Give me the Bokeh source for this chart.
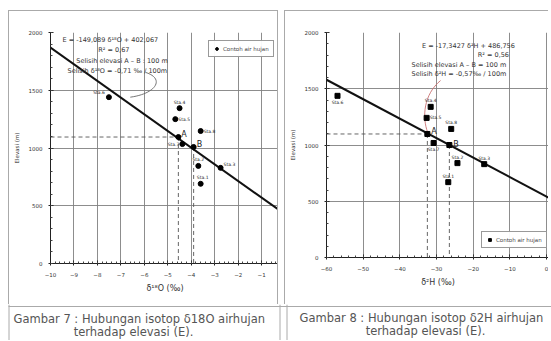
import numpy as np
from bokeh.plotting import figure
from bokeh.layouts import column, row, Spacer
from bokeh.models import ColumnDataSource, Legend, LegendItem, FixedTicker
from bokeh.core.properties import value
from bokeh.embed import file_html
from bokeh.resources import INLINE

# ---------------- data ----------------
stations = ["Sta.6", "Sta.4", "Sta.5", "Sta.8", "A", "Sta.7", "B", "Sta.2", "Sta.3", "Sta.1"]
d18o = [-7.51, -4.50, -4.68, -3.60, -4.55, -4.38, -3.90, -3.70, -2.75, -3.60]
elev_18o = [1440, 1345, 1250, 1147, 1095, 1034, 1009, 845, 828, 690]
d2h = [-57.0, -31.6, -32.7, -26.0, -32.5, -30.8, -26.5, -24.3, -17.0, -26.8]
elev_2h = [1437, 1339, 1241, 1143, 1098, 1018, 1000, 839, 830, 670]

fit18_x = [-10.0, -0.24]
fit18_e = [1870, 460]
fit2h_x = [-60.0, 0.8]
fit2h_e = [1580, 528]

x18_ticks = [-10, -9, -8, -7, -6, -5, -4, -3, -2, -1, 0]
x2h_ticks = [-60, -50, -40, -30, -20, -10, 0]
y_ticks = [0, 500, 1000, 1500, 2000]

eq18 = ["E = -149,089 δ¹⁸O + 402,067", "R² = 0,67",
        "Selisih elevasi A – B : 100 m", "Selisih δ¹⁸O = -0,71 ‰ / 100m"]
eq2h = ["E = -17,3427 δ²H + 486,756", "R² = 0,56",
        "Selisih elevasi A – B = 100 m", "Selisih δ²H = -0,57‰ / 100m"]

legend_label = "Contoh air hujan"
cap1 = ["Gambar 7 : Hubungan isotop δ18O airhujan", "terhadap elevasi (E)."]
cap2 = ["Gambar 8 : Hubungan isotop δ2H airhujan", "terhadap elevasi (E)."]

# label layout (styles, not data)
off18 = [(-4, -5, "right"), (0, -6, "center"), (3, 0, "left"), (3, 0, "left"), (3, -3, "left"),
         (-3, 0, "right"), (3, -2, "left"), (0, -6, "center"), (3, -3, "left"), (2, -6, "center")]
off2h = [(0, 7, "center"), (0, -6, "center"), (3, 0, "left"), (0, -6, "center"), (4, -2, "left"),
         (0, 7, "center"), (4, -1, "left"), (0, -6, "center"), (0, -6, "center"), (0, -6, "center")]

FONT = "DejaVu Sans"
GRID = "#808080"
BORDER = "1px solid #aaa"


def panel(xs, es, fx, fe, xticks, minor, xr, fw, fh, bl, bb, bt, xlabel, marker,
          offs, eq, eqpos, legend_loc, curve, curve_color, border_style):
    p = figure(width=fw, height=fh, x_range=xr, y_range=(0, 2000),
               output_backend="svg", toolbar_location=None,
               min_border_left=bl, min_border_right=0, min_border_top=bt, min_border_bottom=bb)
    p.styles = border_style
    p.outline_line_color = None
    p.background_fill_color = "white"
    p.xaxis.ticker = FixedTicker(ticks=xticks, minor_ticks=minor)
    p.yaxis.ticker = FixedTicker(ticks=y_ticks, minor_ticks=list(range(0, 2001, 100)))
    for ax in (p.xaxis[0], p.yaxis[0]):
        ax.axis_line_color = "#222"
        ax.major_tick_line_color = "#222"
        ax.minor_tick_line_color = "#444"
        ax.major_tick_in = 3
        ax.major_tick_out = 2
        ax.minor_tick_in = 2
        ax.minor_tick_out = 0
        ax.major_label_text_font = FONT
        ax.major_label_text_font_size = "5.5px"
        ax.major_label_text_color = "#333"
        ax.axis_label_text_font = FONT
        ax.axis_label_text_font_style = "normal"
        ax.axis_label_text_color = "#333"
        ax.major_label_standoff = 6
    p.xaxis.axis_label = xlabel
    p.xaxis.axis_label_text_font_size = "8px"
    p.xaxis.axis_label_standoff = 4
    p.yaxis.axis_label = "Elevasi (m)"
    p.yaxis.axis_label_text_font_size = "5.5px"
    p.yaxis.axis_label_standoff = 6
    p.xgrid.grid_line_color = GRID
    p.ygrid.grid_line_color = GRID
    p.xgrid.grid_line_width = 0.9
    p.ygrid.grid_line_width = 0.9

    # dashed guide lines to A and B
    ia, ib = stations.index("A"), stations.index("B")
    p.segment(x0=[xr[0]], y0=[es[ia]], x1=[xs[ia]], y1=[es[ia]], line_color="#555",
              line_dash="4 3", line_width=0.9)
    p.segment(x0=[xs[ia], xs[ib]], y0=[es[ia], es[ib]], x1=[xs[ia], xs[ib]], y1=[0, 0],
              line_color="#555", line_dash="4 3", line_width=0.9)

    # regression line
    p.line(fx, fe, line_color="#111", line_width=2)

    # callout curve
    (x0, y0, cx0, cy0, cx1, cy1, x1, y1) = curve
    p.bezier(x0=[x0], y0=[y0], x1=[x1], y1=[y1], cx0=[cx0], cy0=[cy0], cx1=[cx1], cy1=[cy1],
             line_color=curve_color, line_width=0.9)

    src = ColumnDataSource(dict(x=xs, y=es, t=stations,
                                xo=[o[0] for o in offs], yo=[o[1] for o in offs],
                                al=[o[2] for o in offs],
                                fs=["8px" if s in ("A", "B") else "4.5px" for s in stations]))
    r = p.scatter("x", "y", source=src, marker=marker, size=5, fill_color="black",
                  line_color="black")
    p.text("x", "y", text="t", source=src, x_offset="xo", y_offset="yo", text_align="al",
           text_baseline="middle", text_font_size="fs", text_font=value(FONT), text_color="#222")

    # equation block
    for line, (ex, ey, al) in zip(eq, eqpos):
        p.text(x=[ex], y=[ey], text=[line], text_align=al, text_baseline="middle",
               text_font_size="6.5px", text_font=value(FONT), text_color="#333")

    leg = Legend(items=[LegendItem(label=legend_label, renderers=[r])], location=legend_loc,
                 label_text_font_size="5.5px", label_text_font=FONT, glyph_height=7,
                 glyph_width=7, label_height=7, padding=4, spacing=0, margin=0,
                 border_line_color="#333", border_line_width=0.8, label_standoff=3)
    p.add_layout(leg, "center")
    return p


H = 294
p1 = panel(d18o, elev_18o, fit18_x, fit18_e, x18_ticks,
           list(np.arange(-10, 0.01, 0.2)), (-10, -0.24), 270, H, 41, 42, 21,
           "δ¹⁸O (‰)", "circle", off18, eq18,
           [(-7.45, 1935, "center"), (-7.3, 1848, "center"), (-6.95, 1752, "center"),
            (-7.15, 1664, "center")],
           (158, 206),
           (-5.95, 1655, -5.1, 1600, -5.5, 1470, -6.6, 1440), "#666",
           {"border-top": BORDER, "border-right": BORDER, "border-left": BORDER})
p2 = panel(d2h, elev_2h, fit2h_x, fit2h_e, x2h_ticks,
           list(range(-60, 1, 2)), (-60, 0.8), 264, H - 6, 41, 42, 21,
           "δ²H (‰)", "square", off2h, eq2h,
           [(-21.3, 1884, "center"), (-14.5, 1796, "center"), (-36.8, 1707, "left"),
            (-36.8, 1627, "left")],
           (155, 9),
           (-28.9, 1573, -33.5, 1450, -34.0, 1250, -32.4, 1110), "#c87070",
           {"border-top": BORDER, "border-left": BORDER})

# caption strip (absolute page pixels)
CH = 36
cap = figure(width=551, height=CH, x_range=(0, 551), y_range=(CH, 0),
             output_backend="svg", toolbar_location=None, min_border=0)
cap.axis.visible = False
cap.grid.visible = False
cap.outline_line_color = None
cap.segment(x0=[8], y0=[2], x1=[551], y1=[2], line_color="#aaa", line_width=1)
cap.segment(x0=[8.5, 279.5, 286.5], y0=[0, 0, 0], x1=[8.5, 279.5, 286.5], y1=[CH, CH, CH],
            line_color="#aaa", line_width=1)
cap.text(x=[13, 299], y=[14, 13], text=[cap1[0], cap2[0]], text_align="left",
         text_baseline="middle", text_font_size="11.5px", text_font=value(FONT),
         text_color="#555")
cap.text(x=[133, 425], y=[27, 26], text=[cap1[1], cap2[1]], text_align="center",
         text_baseline="middle", text_font_size="11.5px", text_font=value(FONT),
         text_color="#555")

gap = Spacer(width=264, height=6)
gap.styles = {"border-left": BORDER}
p2_col = column(p2, gap, spacing=0)
top = row(Spacer(width=8, height=H), p1, Spacer(width=6, height=H), p2_col)
layout = column(Spacer(width=551, height=10), top, cap, spacing=0)
open("out.html", "w").write(file_html(layout, INLINE))
